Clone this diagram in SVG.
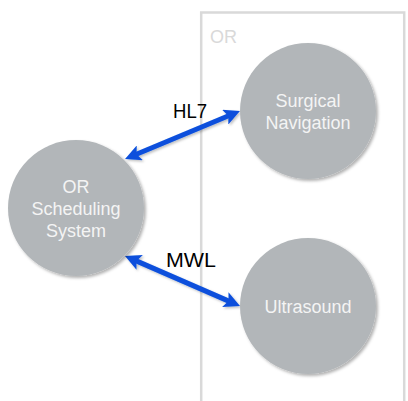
<svg xmlns="http://www.w3.org/2000/svg" width="408" height="401" viewBox="0 0 408 401">
<style>
.node{fill:#b2b6b9;filter:url(#sh)}
.nt{font-family:"Liberation Sans",Arial,sans-serif;font-size:18px;fill:#f4f4f4;text-anchor:middle}
.lbl{font-family:"Liberation Sans",Arial,sans-serif;font-size:20px;fill:#000}
.conn{stroke:#0a50dc;stroke-width:5;fill:none;marker-start:url(#ah);marker-end:url(#ah);filter:url(#sh2)}
</style>
<defs>
<filter id="sh" x="-20%" y="-20%" width="140%" height="140%">
<feDropShadow dx="2" dy="2" stdDeviation="1.5" flood-color="#000" flood-opacity="0.3"/>
</filter>
<filter id="sh2" x="-20%" y="-50%" width="140%" height="200%">
<feDropShadow dx="1.5" dy="1.5" stdDeviation="1" flood-color="#000" flood-opacity="0.25"/>
</filter>
<marker id="ah" viewBox="0 0 16 16" refX="5" refY="8" markerWidth="16" markerHeight="16" markerUnits="userSpaceOnUse" orient="auto-start-reverse">
<path d="M0,0 L16,8 L0,16 L3.5,8 z" fill="#0a50dc"/>
</marker>
</defs>
<g id="or-box">
<rect x="201.2" y="12.5" width="203" height="410" fill="none" stroke="#d9d9d9" stroke-width="2.5"/>
<text x="210" y="43" font-family="'Liberation Sans',Arial,sans-serif" font-size="18" fill="#d9d9d9">OR</text>
</g>
<g id="connectors">
<path class="conn" d="M135.2,154.8 L229.8,115.3"/>
<path class="conn" d="M135.1,260.4 L229.9,301.6"/>
<text class="lbl" x="173" y="118" textLength="34" lengthAdjust="spacingAndGlyphs">HL7</text>
<text class="lbl" x="166" y="267" textLength="50" lengthAdjust="spacingAndGlyphs">MWL</text>
</g>
<g id="or-scheduling">
<circle class="node" cx="76" cy="208" r="68"/>
<text class="nt" x="76" y="193">OR</text>
<text class="nt" x="76" y="215">Scheduling</text>
<text class="nt" x="76" y="237">System</text>
</g>
<g id="surgical-navigation">
<circle class="node" cx="308" cy="111" r="68"/>
<text class="nt" x="308" y="107">Surgical</text>
<text class="nt" x="308" y="129">Navigation</text>
</g>
<g id="ultrasound">
<circle class="node" cx="308" cy="306" r="68"/>
<text class="nt" x="308" y="313">Ultrasound</text>
</g>
</svg>
